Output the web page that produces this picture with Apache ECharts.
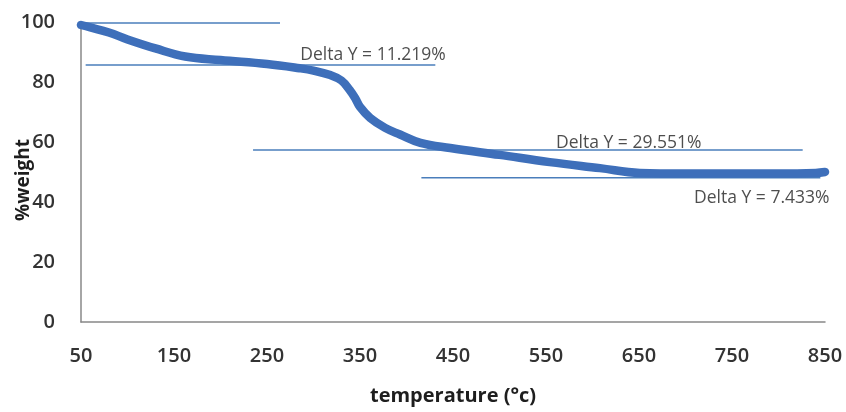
<!DOCTYPE html>
<html><head><meta charset="utf-8">
<script src="https://cdn.jsdelivr.net/npm/echarts@6/dist/echarts.min.js"></script>
<style>html,body{margin:0;padding:0;background:#fff}#c{width:846px;height:412px}</style>
</head><body><div id="c"></div>
<script>
// TGA curve: temperature (°C) vs % weight
const temperature = [50, 60, 80, 100, 130, 162, 200, 250, 285, 300, 318, 330, 339, 345, 350, 361, 377, 393, 415, 447, 500, 554, 608, 651, 700, 750, 800, 840, 850];
const weight =      [99, 98.2, 96.5, 94.2, 91.2, 88.5, 87.3, 86, 84.6, 83.8, 82.3, 80.5, 77.3, 74.5, 71.7, 68, 64.7, 62.5, 59.7, 58, 55.7, 53.3, 51.3, 49.7, 49.5, 49.5, 49.5, 49.7, 50];
// Horizontal reference lines [xStart, xEnd, y]
const refStartX = [50, 55, 235, 416];
const refEndX   = [264, 431, 826, 845];
const refY      = [99.7, 85.7, 57.3, 48.1];
// Annotations
const noteX = [364, 639, 782];
const noteY = [89, 59.7, 41.3];
const noteText = ['Delta Y = 11.219%', 'Delta Y = 29.551%', 'Delta Y = 7.433%'];
const xTicks = [50, 150, 250, 350, 450, 550, 650, 750, 850];
const yTicks = [0, 20, 40, 60, 80, 100];

const chart = echarts.init(document.getElementById('c'));
const font = '"Open Sans", sans-serif';
const series = [];
for (let i = 0; i < refY.length; i++) {
  series.push({
    type: 'line', data: [[refStartX[i], refY[i]], [refEndX[i], refY[i]]],
    symbol: 'none', lineStyle: {color: '#4a7ebb', width: 1.5}, silent: true, z: 1
  });
}
series.push({
  type: 'line', data: temperature.map((t, i) => [t, weight[i]]),
  smooth: 0.4, symbol: 'none', lineStyle: {color: '#3e6fba', width: 8.5, cap: 'round'}, z: 3
});
series.push({
  type: 'scatter', data: noteX.map((x, i) => [x, noteY[i], noteText[i]]),
  symbolSize: 0, z: 5,
  label: {show: true, position: 'inside', formatter: p => p.data[2], color: '#222', fontFamily: font, fontSize: 17.5}
});
chart.setOption({
  animation: false,
  grid: {left: 81, right: 21, top: 22, bottom: 90, outerBoundsMode: 'none', containLabel: false},
  xAxis: {
    type: 'value', min: 50, max: 850, interval: 100,
    name: 'temperature (°c)', nameLocation: 'middle', nameGap: 64, nameMoveOverlap: false,
    nameTextStyle: {fontFamily: font, fontSize: 20, fontWeight: 'bold', color: '#1e1e1e'},
    axisLine: {lineStyle: {color: '#888', width: 1.5}}, axisTick: {show: false},
    axisLabel: {fontFamily: font, fontSize: 20, fontWeight: 600, color: '#333', margin: 24,
      formatter: v => xTicks.includes(v) ? String(v) : ''},
    splitLine: {show: false}
  },
  yAxis: {
    type: 'value', min: 0, max: 100, interval: 20,
    name: '%weight', nameLocation: 'middle', nameGap: 48, nameRotate: 90, nameMoveOverlap: false,
    nameTextStyle: {fontFamily: font, fontSize: 19, fontWeight: 'bold', color: '#1e1e1e', padding: [0, 16, 0, 0]},
    axisLine: {show: true, lineStyle: {color: '#888', width: 1.5}}, axisTick: {show: false},
    axisLabel: {fontFamily: font, fontSize: 20, fontWeight: 600, color: '#333', margin: 26,
      formatter: v => yTicks.includes(v) ? String(v) : ''},
    splitLine: {show: false}
  },
  series: series
});
</script></body></html>
